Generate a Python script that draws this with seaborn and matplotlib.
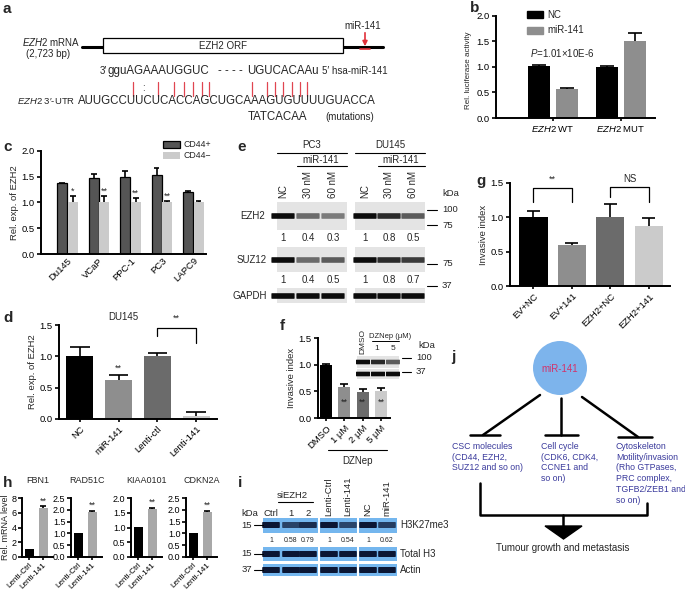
import numpy as np
import pandas as pd
import matplotlib
matplotlib.use('Agg')
import matplotlib.pyplot as plt
import seaborn as sns
from matplotlib.patches import Rectangle, Circle, Polygon, FancyBboxPatch

# ---------------- data ----------------
b_groups = ['EZH2 WT', 'EZH2 MUT']
b_series = ['NC', 'miR-141']
b_nc = [1.01, 1.00]
b_nc_err = [0.03, 0.01]
b_mir = [0.57, 1.50]
b_mir_err = [0.02, 0.17]

c_lines = ['Du145', 'VCaP', 'PPC-1', 'PC3', 'LAPC9']
c_series = ['CD44+', 'CD44\u2212']
c_pos = [1.37, 1.47, 1.49, 1.53, 1.20]
c_pos_err = [0.01, 0.09, 0.13, 0.14, 0.02]
c_neg = [1.00, 1.00, 1.00, 1.00, 1.00]
c_neg_err = [0.12, 0.12, 0.08, 0.02, 0.03]
c_stars = ['*', '**', '**', '**', '']

d_cats = ['NC', 'miR-141', 'Lenti-ctl', 'Lenti-141']
d_vals = [1.00, 0.62, 1.01, 0.05]
d_errs = [0.15, 0.08, 0.04, 0.06]

e_cells = ['PC3', 'DU145']
e_lanes = ['NC', '30 nM', '60 nM']
e_ezh2 = [[1, 0.4, 0.3], [1, 0.8, 0.5]]
e_suz12 = [[1, 0.4, 0.5], [1, 0.8, 0.7]]

f_cats = ['DMSO', '1 \u03bcM', '2 \u03bcM', '5 \u03bcM']
f_vals = [1.00, 0.58, 0.49, 0.51]
f_errs = [0.01, 0.06, 0.06, 0.05]

g_cats = ['EV+NC', 'EV+141', 'EZH2+NC', 'EZH2+141']
g_vals = [1.00, 0.59, 1.01, 0.88]
g_errs = [0.09, 0.04, 0.18, 0.11]

h_genes = ['FBN1', 'RAD51C', 'KIAA0101', 'CDKN2A']
h_groups = ['Lenti-Ctrl', 'Lenti-141']
h_ctrl = [1.05, 1.00, 1.02, 1.00]
h_lenti141 = [6.70, 1.90, 1.63, 1.90]
h_err = [0.15, 0.04, 0.04, 0.04]
h_ymax = [8, 2.5, 2.0, 2.5]

i_lanes = ['Ctrl', '1', '2', 'Lenti-Ctrl', 'Lenti-141', 'NC', 'miR-141']
i_h3k27 = [1, 0.58, 0.79, 1, 0.54, 1, 0.62]
i_ratio_txt = ['1', '0.58', '0.79', '1', '0.54', '1', '0.62']

# ---------------- setup ----------------
sns.set_theme(style='ticks')
plt.rcParams['font.family'] = ['Liberation Sans', 'DejaVu Sans']
plt.rcParams['mathtext.fontset'] = 'custom'
plt.rcParams['mathtext.rm'] = 'Liberation Sans'
plt.rcParams['mathtext.it'] = 'Liberation Sans:italic'
plt.rcParams['mathtext.bf'] = 'Liberation Sans:bold'

W, H = 685, 591
fig = plt.figure(figsize=(W / 100, H / 100), dpi=100)
bg = fig.add_axes([0, 0, 1, 1])
bg.set_xlim(0, W)
bg.set_ylim(H, 0)
bg.axis('off')

FS = 6.8
GRAYS = ['black', '#8e8e8e', '#6b6b6b', '#cbcbcb']


def ax_px(l, t, r, b):
    a = fig.add_axes([l / W, 1 - b / H, (r - l) / W, (b - t) / H])
    a.set_facecolor('none')
    return a


def style(ax, xtick_len=2.5):
    sns.despine(ax=ax)
    for s in ['left', 'bottom']:
        ax.spines[s].set_linewidth(1.4)
        ax.spines[s].set_color('black')
    ax.tick_params(axis='both', labelsize=FS, width=1.2, length=3, pad=1.5,
                   colors='black', direction='out')
    ax.tick_params(axis='x', length=xtick_len)
    ax.set_xlabel('')
    ax.yaxis.set_major_formatter(matplotlib.ticker.FormatStrFormatter('%.1f'))


def errbars(ax, x, vals, errs, cap):
    x = np.asarray(x, float)
    v = np.asarray(vals, float)
    top = v + np.asarray(errs, float)
    ax.vlines(x, v, top, color='black', lw=1.2, zorder=3)
    ax.hlines(top, x - cap, x + cap, color='black', lw=1.2, zorder=3)


def single_bars(ax, cats, vals, errs, width, cap):
    df = pd.DataFrame({'cat': cats, 'val': vals})
    sns.barplot(data=df, x='cat', y='val', hue='cat', palette=GRAYS[:len(cats)],
                legend=False, width=width, saturation=1, linewidth=0, ax=ax)
    errbars(ax, np.arange(len(cats)), vals, errs, cap)


def bracket(ax, x0, x1, ytop, yl, yr, txt, ty, fs=6.5):
    ax.plot([x0, x0, x1, x1], [yl, ytop, ytop, yr], color='black', lw=0.9,
            clip_on=False)
    ax.text((x0 + x1) / 2, ty, txt, ha='center', va='center', fontsize=fs,
            clip_on=False)


def label(x, y, s):
    bg.text(x, y, s, fontsize=11, fontweight='bold', ha='left', va='center')


# ---------------- panel a ----------------
label(3, 9, 'a')
bg.text(22, 42, '$\\mathit{EZH2}$ mRNA', fontsize=7, va='center', ha='left')
bg.text(26, 54, '(2,723 bp)', fontsize=7, va='center', ha='left')
bg.plot([82, 383], [47, 47], color='black', lw=2.2)
bg.add_patch(Rectangle((103, 38), 240, 15, facecolor='white', edgecolor='black', lw=0.9, zorder=3))
bg.text(223, 46, 'EZH2 ORF', fontsize=7, ha='center', va='center', zorder=4)
bg.text(363, 26, 'miR-141', fontsize=7, ha='center', va='center')
bg.annotate('', xy=(365, 49), xytext=(365, 30),
            arrowprops=dict(arrowstyle='-|>', color='#e0303a', lw=1.2, mutation_scale=7))
bg.plot([360, 370], [49, 49], color='#e0303a', lw=1.2)
SEQ = 8.3
bg.text(100, 71, '3\u2032', fontsize=7, ha='left', va='center')
bg.text(108, 71, 'gguAGAAAUGGUC', fontsize=SEQ, ha='left', va='center')
bg.text(218, 71, '- - - -', fontsize=SEQ, ha='left', va='center')
bg.text(247, 71, 'UGUCACAAu', fontsize=SEQ, ha='left', va='center')
bg.text(322, 71, '5\u2032 hsa-miR-141', fontsize=7, ha='left', va='center')
for xr in [133, 158, 174, 184, 193, 202, 209, 252, 267, 275, 283, 292, 300, 307]:
    bg.plot([xr, xr], [82, 96], color='#e04550', lw=0.9)
bg.text(143, 88, ':', fontsize=7, ha='center', va='center')
bg.text(17, 101, '$\\mathit{EZH2}$ 3\u2032-UTR', fontsize=6.8, ha='left', va='center')
bg.text(78, 101, 'AUUGCCUUCUCACCAGCUGCAAAGUGUUUUGUACCA', fontsize=SEQ, ha='left', va='center')
bg.text(248, 117, 'TATCACAA', fontsize=SEQ, ha='left', va='center')
bg.text(325, 117, '(mutations)', fontsize=7, ha='left', va='center')

# ---------------- panel b ----------------
label(470, 8, 'b')
axb = ax_px(496, 15.7, 655, 118)
dfb = pd.DataFrame({'group': b_groups * 2,
                    'series': [b_series[0]] * 2 + [b_series[1]] * 2,
                    'val': b_nc + b_mir})
sns.barplot(data=dfb, x='group', y='val', hue='series', hue_order=b_series,
            palette=['black', '#8e8e8e'], width=0.82, gap=0.21, saturation=1,
            linewidth=0, legend=False, ax=axb)
off = 0.82 / 4
errbars(axb, np.arange(2) - off, b_nc, b_nc_err, 0.1)
errbars(axb, np.arange(2) + off, b_mir, b_mir_err, 0.1)
axb.set_ylim(0, 2.0)
axb.set_yticks([0, 0.5, 1.0, 1.5, 2.0])
axb.set_xlim(-0.84, 1.5)
style(axb)
axb.set_xticks([0, 1])
axb.set_xticklabels(['$\\mathit{EZH2}$ WT', '$\\mathit{EZH2}$ MUT'], fontsize=FS)
axb.set_ylabel('Rel. luciferase activity', fontsize=5.8, labelpad=1.5)
axb.yaxis.set_label_coords(-0.15, 0.47)
bg.add_patch(Rectangle((527, 11), 16, 7, color='black'))
bg.text(547, 14.5, b_series[0], fontsize=7, va='center')
bg.add_patch(Rectangle((527, 26.5), 16, 7, color='#8e8e8e'))
bg.text(547, 30, b_series[1], fontsize=7, va='center')
bg.text(530, 53, '$\\mathit{P}$=1.01\u00d710E-6', fontsize=7, va='center')

# ---------------- panel c ----------------
label(3, 147, 'c')
axc = ax_px(41, 151, 206, 254)
dfc = pd.DataFrame({'line': c_lines * 2,
                    'series': [c_series[0]] * 5 + [c_series[1]] * 5,
                    'val': c_pos + c_neg})
sns.barplot(data=dfc, x='line', y='val', hue='series', hue_order=c_series,
            palette=['#555555', '#cbcbcb'], width=0.667, gap=0.06, saturation=1,
            linewidth=0, legend=False, ax=axc)
for p in axc.patches:
    if p.get_facecolor()[0] < 0.5:
        p.set_edgecolor('black')
        p.set_linewidth(0.9)
off = 0.667 / 4
errbars(axc, np.arange(5) - off, c_pos, c_pos_err, 0.09)
errbars(axc, np.arange(5) + off, c_neg, c_neg_err, 0.09)
for k, s in enumerate(c_stars):
    if s:
        axc.text(k + off, c_neg[k] + c_neg_err[k] + 0.02, s, ha='center', va='bottom', fontsize=6.5)
axc.set_ylim(0, 2.0)
axc.set_yticks([0, 0.5, 1.0, 1.5, 2.0])
axc.set_xlim(-0.84, 4.40)
style(axc, xtick_len=0)
axc.set_xticks(range(5))
axc.set_xticklabels(c_lines, rotation=45, ha='right', rotation_mode='anchor', fontsize=FS)
axc.set_ylabel('Rel. exp. of EZH2', fontsize=FS, labelpad=2)
bg.add_patch(Rectangle((163, 141), 17, 6.5, facecolor='#555555', edgecolor='black', lw=0.9))
bg.text(184, 144.5, c_series[0], fontsize=6.3, va='center')
bg.add_patch(Rectangle((163, 152), 17, 6.5, facecolor='#cbcbcb', edgecolor='none'))
bg.text(184, 155.5, c_series[1], fontsize=6.3, va='center')

# ---------------- panel d ----------------
label(3, 318, 'd')
axd = ax_px(59, 325, 217, 419)
single_bars(axd, d_cats, d_vals, d_errs, 0.70, 0.25)
axd.set_ylim(0, 1.5)
axd.set_yticks([0, 0.5, 1.0, 1.5])
axd.set_xlim(-0.54, 3.54)
style(axd)
axd.set_xticks(range(4))
axd.set_xticklabels(d_cats, rotation=45, ha='right', rotation_mode='anchor', fontsize=FS)
axd.set_ylabel('Rel. exp. of EZH2', fontsize=FS, labelpad=2)
axd.text(1, d_vals[1] + d_errs[1] + 0.04, '**', ha='center', va='bottom', fontsize=6.5)
bracket(axd, 2, 3, 1.46, 1.33, 1.22, '**', 1.60)
bg.text(123, 317, 'DU145', fontsize=7, ha='center', va='center')

# ---------------- panel e (western blot) ----------------
label(237, 147, 'e')
lane_x = [[283, 308, 333], [365, 389, 413]]
blot_x = [(277, 347), (355, 425)]
for ci, cell in enumerate(e_cells):
    cx = (blot_x[ci][0] + blot_x[ci][1]) / 2
    bg.text(cx, 145, cell, fontsize=7, ha='center', va='center')
    bg.plot(blot_x[ci], [153, 153], color='black', lw=0.8)
    mx = (lane_x[ci][1] + lane_x[ci][2]) / 2
    bg.text(mx, 160, 'miR-141', fontsize=7, ha='center', va='center')
    bg.plot([lane_x[ci][1] - 11, blot_x[ci][1]], [166, 166], color='black', lw=0.8)
    for li, ln in enumerate(e_lanes):
        bg.text(lane_x[ci][li], 198, ln, fontsize=7, rotation=90, ha='center', va='bottom')
    rows = [(202, 230, 216, e_ezh2[ci]), (247, 272, 260, e_suz12[ci]), (288, 303, 296, [1, 1, 1])]
    for (y0, y1, yb, ints) in rows:
        bg.add_patch(Rectangle((blot_x[ci][0], y0), blot_x[ci][1] - blot_x[ci][0], y1 - y0,
                               facecolor='#e4e4e4', edgecolor='none'))
        for li in range(3):
            it = ints[li]
            bg.add_patch(FancyBboxPatch((lane_x[ci][li] - 11, yb - 2.2), 22, 4.4,
                                        boxstyle='round,pad=0.6', facecolor='black',
                                        edgecolor='none', alpha=0.25 + 0.7 * it))
    for li in range(3):
        bg.text(lane_x[ci][li], 238, f'{e_ezh2[ci][li]:g}', fontsize=7, ha='center', va='center')
        bg.text(lane_x[ci][li], 280, f'{e_suz12[ci][li]:g}', fontsize=7, ha='center', va='center')
bg.text(265, 216, 'EZH2', fontsize=7, ha='right', va='center')
bg.text(267, 260, 'SUZ12', fontsize=7, ha='right', va='center')
bg.text(267, 296, 'GAPDH', fontsize=7, ha='right', va='center')
bg.text(442, 193, 'kDa', fontsize=6.8, ha='left', va='center')
for yk, kd in [(210, '100'), (225, '75'), (264, '75'), (286, '37')]:
    bg.plot([427, 437], [yk, yk], color='black', lw=0.8)
    bg.text(442, yk, kd, fontsize=6.8, ha='left', va='center')

# ---------------- panel f ----------------
label(280, 326, 'f')
axf = ax_px(318, 338, 390, 418)
single_bars(axf, f_cats, f_vals, f_errs, 0.65, 0.22)
axf.set_ylim(0, 1.5)
axf.set_yticks([0, 0.5, 1.0, 1.5])
axf.set_xlim(-0.44, 3.49)
style(axf)
axf.set_xticks(range(4))
axf.set_xticklabels(f_cats, rotation=45, ha='right', rotation_mode='anchor', fontsize=FS)
axf.set_ylabel('Invasive index', fontsize=FS, labelpad=2)
for k in range(1, 4):
    axf.text(k, 0.30, '**', ha='center', va='center', fontsize=6.5, color='#222222')
bg.plot([328, 387], [450, 450], color='black', lw=0.8)
bg.text(358, 461, 'DZNep', fontsize=7, ha='center', va='center')
# inset blot
bg.text(363, 354, 'DMSO', fontsize=6, rotation=90, ha='center', va='bottom')
bg.text(390, 336, 'DZNep (\u03bcM)', fontsize=5.5, ha='center', va='center')
bg.plot([372, 399], [341, 341], color='black', lw=0.7)
bg.text(377, 349, '1', fontsize=6, ha='center', va='center')
bg.text(393, 349, '5', fontsize=6, ha='center', va='center')
inset_x = [363, 378, 393]
for (y0, y1, yb, ints) in [(356, 368, 362, [1.0, 0.8, 0.45]), (369, 379, 374, [1, 1, 1])]:
    bg.add_patch(Rectangle((357, y0), 42, y1 - y0, facecolor='#e4e4e4', edgecolor='none'))
    for xx, it in zip(inset_x, ints):
        bg.add_patch(FancyBboxPatch((xx - 6.5, yb - 1.8), 13, 3.6, boxstyle='round,pad=0.5',
                                    facecolor='black', edgecolor='none', alpha=0.3 + 0.65 * it))
bg.text(418, 345, 'kDa', fontsize=6.8, ha='left', va='center')
bg.plot([402, 411], [358, 358], color='black', lw=0.8)
bg.text(416, 358, '100', fontsize=6.8, ha='left', va='center')
bg.plot([402, 411], [372, 372], color='black', lw=0.8)
bg.text(416, 372, '37', fontsize=6.8, ha='left', va='center')

# ---------------- panel g ----------------
label(476, 181, 'g')
axg = ax_px(510, 183, 670, 286)
single_bars(axg, g_cats, g_vals, g_errs, 0.73, 0.17)
axg.set_ylim(0, 1.5)
axg.set_yticks([0, 0.5, 1.0, 1.5])
axg.set_xlim(-0.61, 3.55)
style(axg)
axg.set_xticks(range(4))
axg.set_xticklabels(g_cats, rotation=45, ha='right', rotation_mode='anchor', fontsize=FS)
axg.set_ylabel('Invasive index', fontsize=FS, labelpad=2)
bracket(axg, 0, 1, 1.43, 1.22, 1.22, '**', 1.55)
bracket(axg, 2, 3, 1.44, 1.30, 1.22, 'NS', 1.56, fs=7)

# ---------------- panel h ----------------
label(3, 483, 'h')
h_boxes = [(22, 53), (71, 102), (131, 162), (186, 217)]
for gi, gene in enumerate(h_genes):
    ax = ax_px(h_boxes[gi][0], 498, h_boxes[gi][1], 557)
    vals = [h_ctrl[gi], h_lenti141[gi]]
    df = pd.DataFrame({'grp': h_groups, 'val': vals})
    sns.barplot(data=df, x='grp', y='val', hue='grp', palette=['black', '#a8a8a8'],
                legend=False, width=0.64, saturation=1, linewidth=0, ax=ax)
    errbars(ax, [1], [h_lenti141[gi]], [h_err[gi]], 0.2)
    ax.set_ylim(0, h_ymax[gi])
    step = 2 if h_ymax[gi] > 3 else 0.5
    ax.set_yticks(np.arange(0, h_ymax[gi] + 1e-9, step))
    ax.set_xlim(-0.5, 1.7)
    style(ax)
    if h_ymax[gi] > 3:
        ax.yaxis.set_major_formatter(matplotlib.ticker.FormatStrFormatter('%d'))
    ax.tick_params(axis='both', labelsize=6.5, pad=1)
    ax.tick_params(axis='x', labelsize=5.9, pad=1)
    ax.set_xticks([0, 1])
    ax.set_xticklabels(h_groups, rotation=45, ha='right', rotation_mode='anchor', fontsize=5.9)
    ax.set_ylabel('Rel. mRNA level' if gi == 0 else '', fontsize=6.5, labelpad=1)
    ax.set_title(gene, fontsize=6.5, pad=11)
    ax.text(1, h_lenti141[gi] + h_err[gi] + h_ymax[gi] * 0.02, '**', ha='center', va='bottom', fontsize=6.5)

# ---------------- panel i ----------------
label(238, 483, 'i')
i_x = [271, 291, 308, 329, 348, 368, 387]
segs = [(263, 318), (320, 357), (359, 397)]
bg.text(292, 496, 'siEZH2', fontsize=6.8, ha='center', va='center')
bg.plot([278, 313], [502, 502], color='black', lw=0.8)
bg.text(241, 513, 'kDa', fontsize=6.8, ha='left', va='center')
for k in range(3):
    bg.text(i_x[k], 513, i_lanes[k], fontsize=6.8, ha='center', va='center')
for k in range(3, 7):
    bg.text(i_x[k], 516, i_lanes[k], fontsize=6.8, rotation=90, ha='center', va='bottom')
rows_i = [(518, 533, 525, i_h3k27, 'H3K27me3', '15'),
          (547, 561, 554, [1] * 7, 'Total H3', '15'),
          (564, 576, 570, [1] * 7, 'Actin', '37')]
for (y0, y1, yb, ints, nm, kd) in rows_i:
    for (sx0, sx1) in segs:
        bg.add_patch(Rectangle((sx0, y0), sx1 - sx0, y1 - y0, facecolor='#74b6ee', edgecolor='none'))
    for xx, it in zip(i_x, ints):
        bg.add_patch(FancyBboxPatch((xx - 8, yb - 2.2), 16, 4.4, boxstyle='round,pad=0.8',
                                    facecolor='#0b1634', edgecolor='none', alpha=0.35 + 0.65 * it))
    bg.text(400, yb, nm, fontsize=7, ha='left', va='center')
    bg.text(252, yb, kd, fontsize=6.8, ha='right', va='center')
    bg.plot([254, 263], [yb, yb], color='black', lw=0.8)
for xx, t in zip(i_x, i_ratio_txt):
    bg.text(xx, 541, t, fontsize=5, ha='center', va='center')

# ---------------- panel j ----------------
label(451, 357, 'j')
JC = '#3a3a9c'
bg.add_patch(Circle((560, 368), 27, facecolor='#7db4ec', edgecolor='none'))
bg.text(560, 369, 'miR-141', fontsize=7, color='#d2336a', ha='center', va='center')
bg.plot([540, 483], [395, 435], color='black', lw=1.8)
bg.plot([470, 500], [435, 435], color='black', lw=1.8)
bg.plot([561, 561], [398, 435], color='black', lw=1.8)
bg.plot([545, 578], [435, 435], color='black', lw=1.8)
bg.plot([582, 638], [397, 437], color='black', lw=1.8)
bg.plot([618, 652], [437, 437], color='black', lw=1.8)
bg.text(452, 442, 'CSC molecules\n(CD44, EZH2,\nSUZ12 and so on)', fontsize=6.3, color=JC,
        ha='left', va='top', linespacing=1.25)
bg.text(541, 442, 'Cell cycle\n(CDK6, CDK4,\nCCNE1 and\nso on)', fontsize=6.3, color=JC,
        ha='left', va='top', linespacing=1.25)
bg.text(616, 442, 'Cytoskeleton\nMotility/invasion\n(Rho GTPases,\nPRC complex,\nTGFB2/ZEB1 and\nso on)',
        fontsize=6.3, color=JC, ha='left', va='top', linespacing=1.25)
bg.plot([480, 480, 647, 647], [483, 515, 515, 503], color='black', lw=1.8)
bg.plot([563, 563], [515, 527], color='black', lw=1.8)
bg.add_patch(Polygon([(545, 526), (582, 526), (563.5, 539)], closed=True, color='black'))
bg.text(563, 548, 'Tumour growth and metastasis', fontsize=7, ha='center', va='center')

fig.savefig('out.png', dpi=100)
